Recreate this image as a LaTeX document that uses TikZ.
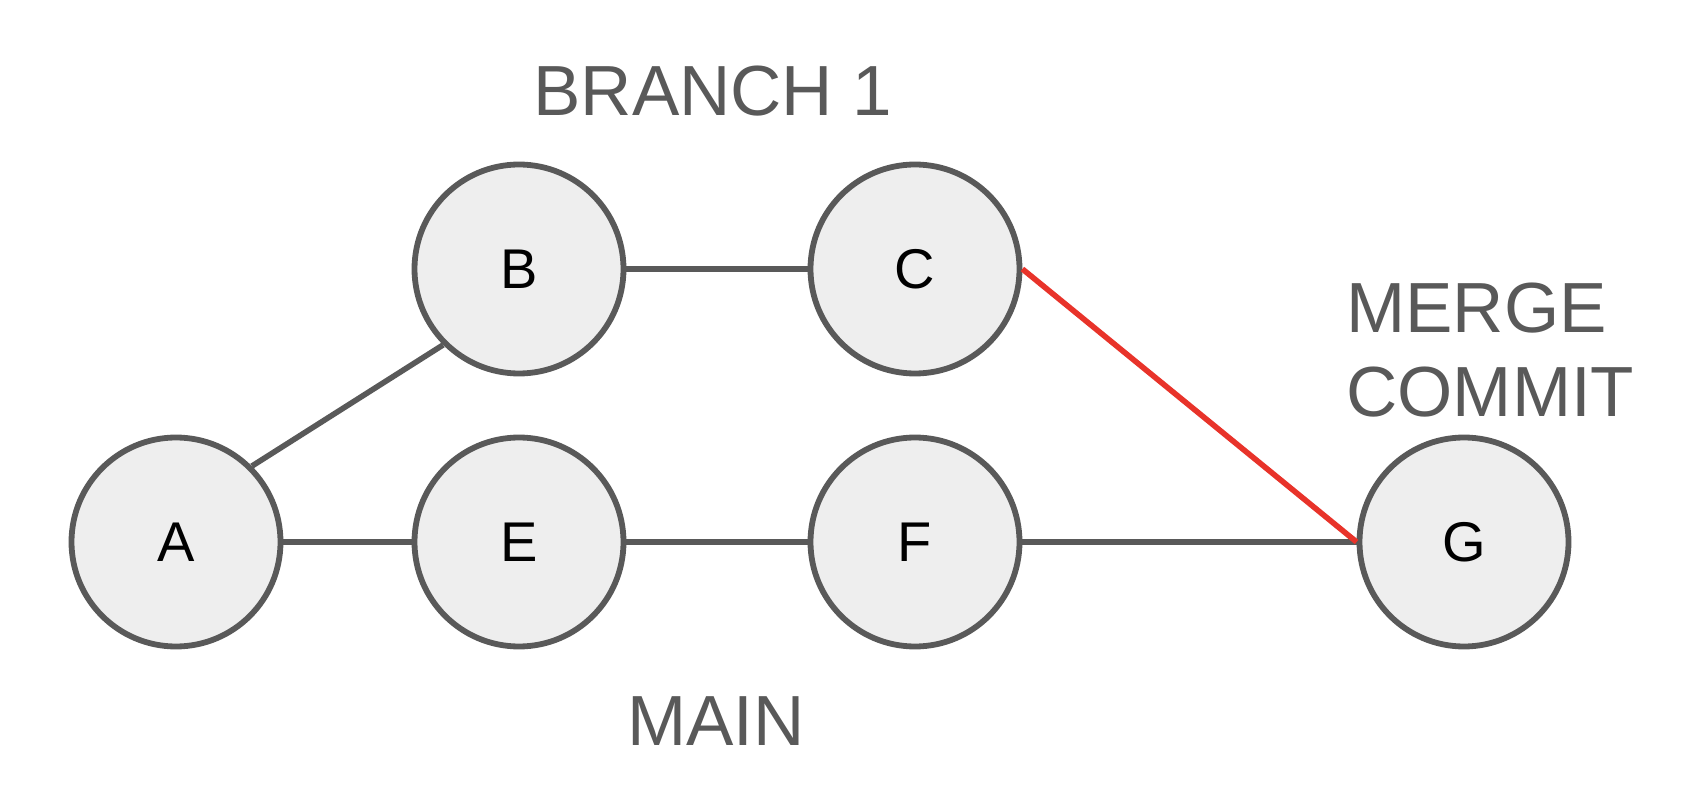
\documentclass[tikz,border=0pt]{standalone}
\usepackage{fontspec}
\setmainfont{Liberation Sans}
\begin{document}
\begin{tikzpicture}[x=0.5pt,y=-0.5pt,
  commit/.style={circle,draw=linegrey,fill=nodefill,line width=2.9pt,minimum size=104.5pt,inner sep=0pt,font=\fontsize{28}{33}\selectfont,text=black},
  edge/.style={draw=linegrey,line width=2.8pt},
  mergeedge/.style={draw=mergered,line width=2.8pt},
  lbl/.style={text=linegrey,font=\fontsize{35.5}{42}\selectfont,inner sep=0pt}]
\definecolor{linegrey}{HTML}{595959}
\definecolor{nodefill}{HTML}{EEEEEE}
\definecolor{mergered}{HTML}{E8332A}
\useasboundingbox (0,0) rectangle (1692,812);
\node[commit] (A) at (176,542) {A};
\node[commit] (B) at (519,269) {B};
\node[commit] (C) at (915,269) {C};
\node[commit] (E) at (519,542) {E};
\node[commit] (F) at (915,542) {F};
\node[commit] (G) at (1464,542) {G};
\draw[edge] (A.45) -- (B.-135);
\draw[edge] (A.east) -- (E.west);
\draw[edge] (E.east) -- (F.west);
\draw[edge] (F.east) -- (G.west);
\draw[edge] (B.east) -- (C.west);
\draw[mergeedge] (C.east) -- (G.west);
\node[lbl,anchor=base] (branch) at (713,116) {BRANCH 1};
\node[lbl,anchor=base] (main) at (716,745) {MAIN};
\node[lbl,anchor=base west,align=left] (merge) at (1346,417) {MERGE\\COMMIT};
\end{tikzpicture}
\end{document}
